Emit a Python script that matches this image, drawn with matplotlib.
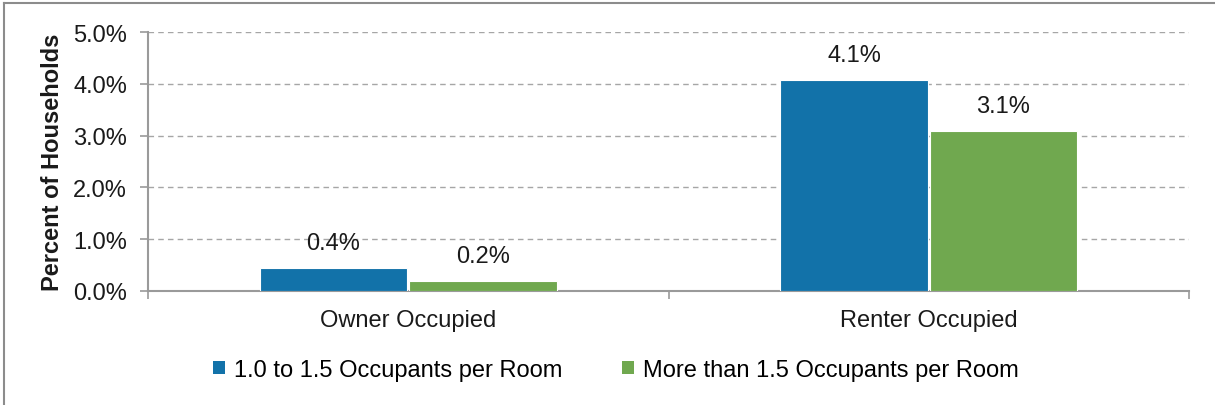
import matplotlib
matplotlib.use("Agg")
import matplotlib.pyplot as plt
from matplotlib.lines import Line2D
from matplotlib.patches import Patch
import numpy as np

categories = ["Owner Occupied", "Renter Occupied"]
series_names = ["1.0 to 1.5 Occupants per Room", "More than 1.5 Occupants per Room"]
values_low = [0.44, 4.08]
values_high = [0.19, 3.09]
yticks = [0, 1, 2, 3, 4, 5]

blue = "#1272A9"
green = "#70A84F"
grid_c = "#A6A6A6"
spine_c = "#9A9A9A"

plt.rcParams['font.family'] = ['Liberation Sans', 'DejaVu Sans']

fig = plt.figure(figsize=(12.15, 4.06), dpi=100)
ax = fig.add_axes([148/1215, 1-292/406, (1189-148)/1215, (292-33)/406])

x = np.arange(len(categories))
w = 0.283
off = 0.1435
b1 = ax.bar(x - off, values_low, w, color=blue, edgecolor="white", linewidth=0.8, zorder=3)
b2 = ax.bar(x + off, values_high, w, color=green, edgecolor="white", linewidth=0.8, zorder=3)

for bars, vals in ((b1, values_low), (b2, values_high)):
    for r, v in zip(bars, vals):
        ax.annotate(f"{v:.1f}%", (r.get_x() + r.get_width()/2, v),
                    xytext=(0, 10), textcoords="offset points",
                    ha="center", va="bottom", fontsize=17, color="#1a1a1a")

ax.set_xlim(-0.5, 1.5)
ax.set_ylim(0, 5)
ax.set_yticks(yticks)
ax.set_yticklabels([f"{t:.1f}%" for t in yticks], fontsize=17, color="#1a1a1a")
ax.set_xticks([-0.5, 0.5, 1.5])
ax.set_xticklabels([])
ax.set_xticks(x, minor=True)
ax.set_xticklabels(categories, minor=True, fontsize=17, color="#1a1a1a")
ax.tick_params(axis="x", which="minor", length=0, pad=13)
ax.tick_params(axis="x", which="major", length=6, color=spine_c, width=1.2)
ax.tick_params(axis="y", length=6, color=spine_c, width=1.2, pad=9)

ax.yaxis.grid(True, linestyle=(0, (4, 3)), color=grid_c, linewidth=1.0, zorder=0)
ax.set_axisbelow(True)
for s in ("top", "right"):
    ax.spines[s].set_visible(False)
for s in ("left", "bottom"):
    ax.spines[s].set_color(spine_c)
    ax.spines[s].set_linewidth(1.5)

ax.set_ylabel("Percent of Households", fontsize=17, fontweight="bold", labelpad=7, color="#1a1a1a")

handles = [Patch(facecolor=blue), Patch(facecolor=green)]
fig.legend(handles, series_names, loc="center", bbox_to_anchor=(616/1215, 1-371/406),
           ncol=2, frameon=False, fontsize=17, handlelength=0.5, handleheight=0.5,
           handletextpad=0.4, columnspacing=2.5)

fig.add_artist(Line2D([4/1215, 4/1215], [0, 1-4/406], transform=fig.transFigure, color="#8C8C8C", linewidth=1.5))
fig.add_artist(Line2D([4/1215, 1], [1-4/406, 1-4/406], transform=fig.transFigure, color="#8C8C8C", linewidth=1.5))

fig.savefig("out.png", dpi=100)
